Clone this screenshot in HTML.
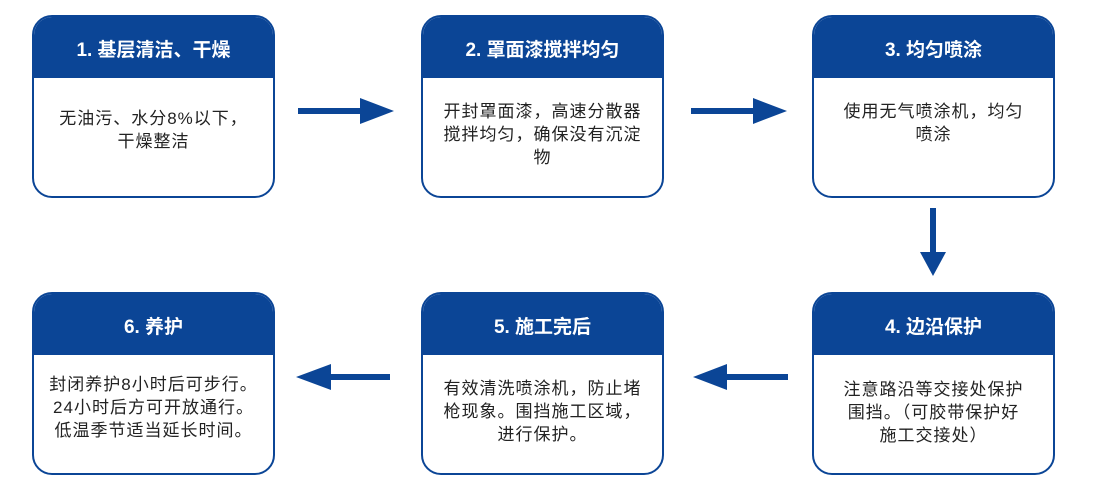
<!DOCTYPE html>
<html><head><meta charset="utf-8"><style>
html,body{margin:0;padding:0;background:#fff;width:1099px;height:497px;overflow:hidden;position:relative;font-family:"Liberation Sans","Noto Sans CJK SC",sans-serif;}
.box{position:absolute;width:239px;height:179px;border:2px solid #0b4596;border-radius:20px;overflow:hidden;background:#fff;}
.hd{position:absolute;left:0;top:0;right:0;height:61px;background:#0b4596;color:#fff;font-weight:bold;font-size:19px;text-align:center;line-height:20px;padding-top:24px;box-sizing:border-box;}
.bd{position:absolute;left:-10px;right:-10px;text-align:center;font-size:17px;letter-spacing:1px;line-height:23px;color:#222;}
</style></head><body>
<div class="box" style="left:32px;top:15px"><div class="hd">1. 基层清洁、干燥</div><div class="bd" style="top:90px">无油污、水分8%以下，<br>干燥整洁</div></div>
<div class="box" style="left:421px;top:15px"><div class="hd">2. 罩面漆搅拌均匀</div><div class="bd" style="top:83px">开封罩面漆，高速分散器<br>搅拌均匀，确保没有沉淀<br>物</div></div>
<div class="box" style="left:812px;top:15px"><div class="hd">3. 均匀喷涂</div><div class="bd" style="top:83px">使用无气喷涂机，均匀<br>喷涂</div></div>
<div class="box" style="left:32px;top:292px"><div class="hd">6. 养护</div><div class="bd" style="top:79px">封闭养护8小时后可步行。<br>24小时后方可开放通行。<br>低温季节适当延长时间。</div></div>
<div class="box" style="left:421px;top:292px"><div class="hd">5. 施工完后</div><div class="bd" style="top:83px">有效清洗喷涂机，防止堵<br>枪现象。围挡施工区域，<br>进行保护。</div></div>
<div class="box" style="left:812px;top:292px"><div class="hd">4. 边沿保护</div><div class="bd" style="top:84px">注意路沿等交接处保护<br>围挡。（可胶带保护好<br>施工交接处）</div></div>
<svg width="1099" height="497" style="position:absolute;left:0;top:0">
<g fill="#0b4596" stroke="none">
<rect x="298" y="108" width="64" height="6"/><polygon points="360,98 394,111 360,124"/>
<rect x="691" y="108" width="64" height="6"/><polygon points="753,98 787,111 753,124"/>
<rect x="930" y="208" width="6" height="46"/><polygon points="920,252 946,252 933,276"/>
<rect x="725" y="374" width="63" height="6"/><polygon points="727,364 727,390 693,377"/>
<rect x="330" y="374" width="60" height="6"/><polygon points="331,364 331,390 296,377"/>
</g></svg>
</body></html>
